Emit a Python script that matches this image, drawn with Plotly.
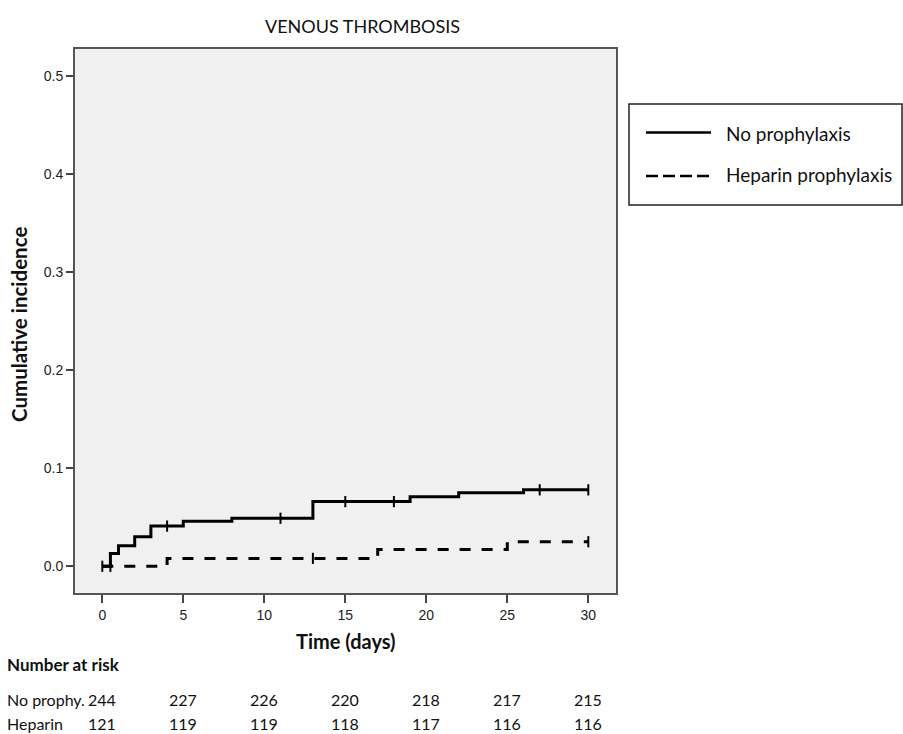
import plotly.graph_objects as go

# ---- data ----
days_ticks = [0, 5, 10, 15, 20, 25, 30]
y_ticks = [0.0, 0.1, 0.2, 0.3, 0.4, 0.5]

no_proph_t = [0, 0.5, 1, 2, 3, 5, 8, 13, 19, 22, 26, 30]
no_proph_y = [0, 0.013, 0.021, 0.030, 0.041, 0.046, 0.049, 0.066, 0.071, 0.075, 0.078, 0.078]
no_proph_cens = [4, 11, 15, 18, 27, 30]

hep_t = [0, 4, 17, 25, 30]
hep_y = [0, 0.008, 0.017, 0.025, 0.025]
hep_cens = [0, 0.5, 13, 30]

risk_no_proph = [244, 227, 226, 220, 218, 217, 215]
risk_heparin = [121, 119, 119, 118, 117, 116, 116]

series_names = ["No prophylaxis", "Heparin prophylaxis"]


def step_value(ts, ys, t):
    v = ys[0]
    for ti, yi in zip(ts, ys):
        if ti <= t:
            v = yi
    return v


# ---- layout geometry (pixels) ----
W, H = 903, 734
L, R, T, B = 75, 616, 49, 593
pw, ph = R - L, B - T


def px(x):
    return (x - L) / pw


def py(y):
    return (B - y) / ph


CAL = "Lato, 'Open Sans', sans-serif"
ARI = "'Liberation Sans', Arial, sans-serif"
INK = "#111111"

fig = go.Figure()

fig.add_trace(go.Scatter(x=no_proph_t, y=no_proph_y, mode="lines", line_shape="hv",
                         line=dict(color="black", width=3), name=series_names[0],
                         showlegend=False))
fig.add_trace(go.Scatter(x=no_proph_cens,
                         y=[step_value(no_proph_t, no_proph_y, t) for t in no_proph_cens],
                         mode="markers",
                         marker=dict(symbol="line-ns", size=8, line=dict(color="black", width=2)),
                         showlegend=False, hoverinfo="skip"))
fig.add_trace(go.Scatter(x=hep_t, y=hep_y, mode="lines", line_shape="hv",
                         line=dict(color="black", width=3, dash="11px,11px"),
                         name=series_names[1], showlegend=False))
fig.add_trace(go.Scatter(x=hep_cens,
                         y=[step_value(hep_t, hep_y, t) for t in hep_cens],
                         mode="markers",
                         marker=dict(symbol="line-ns", size=8, line=dict(color="black", width=2)),
                         showlegend=False, hoverinfo="skip"))


def ann(text, x, y, size, xref="paper", xanchor="center", angle=0):
    return dict(text=text, x=x, y=y, xref=xref, yref="paper", xanchor=xanchor,
                yanchor="middle", textangle=angle, showarrow=False,
                font=dict(family=CAL, size=size, color=INK))


annotations = [
    ann("VENOUS THROMBOSIS", px(362), py(26), 18),
    ann("<b>Time (days)</b>", px(346), py(641), 20),
    ann("<b>Cumulative incidence</b>", px(19), py(325), 20.5, angle=-90),
    ann("<b>Number at risk</b>", px(5), py(664), 17, xanchor="left"),
    ann("No prophy.", px(5), py(699), 16, xanchor="left"),
    ann("Heparin", px(5), py(723), 16, xanchor="left"),
    ann(series_names[0], px(724), py(133), 19, xanchor="left"),
    ann(series_names[1], px(724), py(175), 19, xanchor="left"),
]
for d, a, b in zip(days_ticks, risk_no_proph, risk_heparin):
    annotations.append(ann(str(a), d, py(699), 16, xref="x"))
    annotations.append(ann(str(b), d, py(723), 16, xref="x"))

shapes = [
    dict(type="rect", xref="paper", yref="paper", x0=px(629), x1=px(902), y0=py(205), y1=py(104),
         line=dict(color="#222222", width=1.5), fillcolor="white", layer="below"),
    dict(type="line", xref="paper", yref="paper", x0=px(646), x1=px(711), y0=py(132.5), y1=py(132.5),
         line=dict(color="black", width=2.5)),
    dict(type="line", xref="paper", yref="paper", x0=px(646), x1=px(711), y0=py(176), y1=py(176),
         line=dict(color="black", width=2.5, dash="12px,5px")),
]

x_lo = -1.685
x_hi = 31.71
y_lo = -0.0273
y_hi = 0.528

fig.update_layout(
    width=W, height=H,
    margin=dict(l=L, r=W - R, t=T, b=H - B, pad=0),
    paper_bgcolor="white",
    plot_bgcolor="#f0f0f0",
    annotations=annotations,
    shapes=shapes,
    showlegend=False,
    xaxis=dict(range=[x_lo, x_hi], tickvals=days_ticks, ticks="outside", ticklen=8,
               tickwidth=2, tickcolor="#444444", showgrid=False, zeroline=False,
               showline=True, mirror=True, linecolor="#555555", linewidth=2,
               tickfont=dict(family=ARI, size=14, color="#222222")),
    yaxis=dict(range=[y_lo, y_hi], tickvals=y_ticks, tickformat=".1f", ticks="outside",
               ticklen=7, tickwidth=2, tickcolor="#444444", showgrid=False, zeroline=False,
               showline=True, mirror=True, linecolor="#555555", linewidth=2,
               tickfont=dict(family=ARI, size=14, color="#222222")),
)

fig.write_html("out.html", config={"displayModeBar": False},
               post_script="document.body.style.margin='0';document.body.style.overflow='hidden';")
